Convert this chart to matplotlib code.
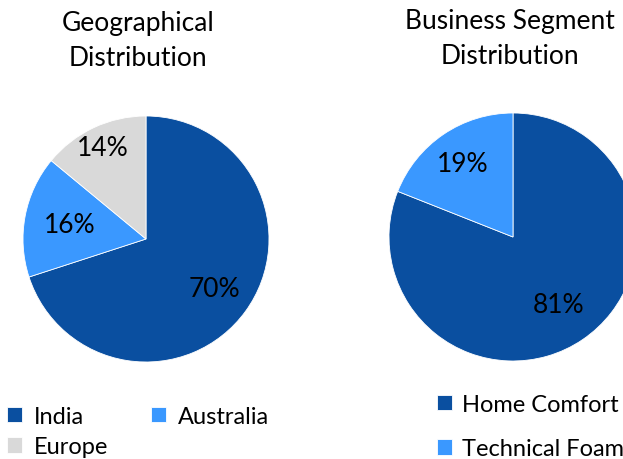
import matplotlib.pyplot as plt
import numpy as np

plt.rcParams['font.family'] = ['Lato', 'DejaVu Sans']

geo_labels = ["India", "Australia", "Europe"]
geo_values = [70, 16, 14]
seg_labels = ["Home Comfort", "Technical Foam"]
seg_values = [81, 19]

DARK = "#0A4FA0"
LIGHT = "#3A98FF"
GREY = "#D9D9D9"
geo_colors = [DARK, LIGHT, GREY]
seg_colors = [DARK, LIGHT]

W, H = 623, 460
fig = plt.figure(figsize=(W / 100, H / 100), dpi=100)
ax = fig.add_axes([0, 0, 1, 1])


def draw_pie(values, colors, center, radius, label_dist):
    wedges, _ = ax.pie(values, colors=colors, startangle=90, counterclock=False,
                       center=center, radius=radius, frame=True,
                       wedgeprops=dict(linewidth=0.6, edgecolor="white"))
    for w, v, d in zip(wedges, values, label_dist):
        ang = np.deg2rad((w.theta1 + w.theta2) / 2)
        x = center[0] + d * radius * np.cos(ang)
        y = center[1] + d * radius * np.sin(ang)
        ax.text(x, y, f"{v}%", ha="center", va="center", fontsize=19, color="black")
    return wedges


geo_w = draw_pie(geo_values, geo_colors, (146, 220), 123, [0.69, 0.63, 0.82])
seg_w = draw_pie(seg_values, seg_colors, (513, 222), 124, [0.66, 0.72])
ax.set_xlim(0, W)
ax.set_ylim(0, H)
ax.set_aspect("equal")
ax.axis("off")

ax.text(138, 419, "Geographical\nDistribution", ha="center", va="center",
        fontsize=19, linespacing=1.5)
ax.text(510, 421, "Business Segment\nDistribution", ha="center", va="center",
        fontsize=19, linespacing=1.5)

# row-wise order for a 2-column legend: India, Australia / Europe
order = [0, 2, 1]
leg1 = ax.legend([geo_w[i] for i in order], [geo_labels[i] for i in order],
                 loc="upper left", bbox_to_anchor=(2 / W, 58 / H),
                 ncol=2, frameon=False, fontsize=17, handlelength=0.65, handleheight=0.65,
                 handletextpad=0.5, columnspacing=1.8, labelspacing=0.4,
                 borderaxespad=0, borderpad=0.2)
ax.add_artist(leg1)
ax.legend(seg_w, seg_labels, loc="upper left", bbox_to_anchor=(432 / W, 70 / H),
          ncol=1, frameon=False, fontsize=17, handlelength=0.65, handleheight=0.65,
          handletextpad=0.4, labelspacing=1.0, borderaxespad=0, borderpad=0.2)

fig.savefig("out.png", dpi=100)
